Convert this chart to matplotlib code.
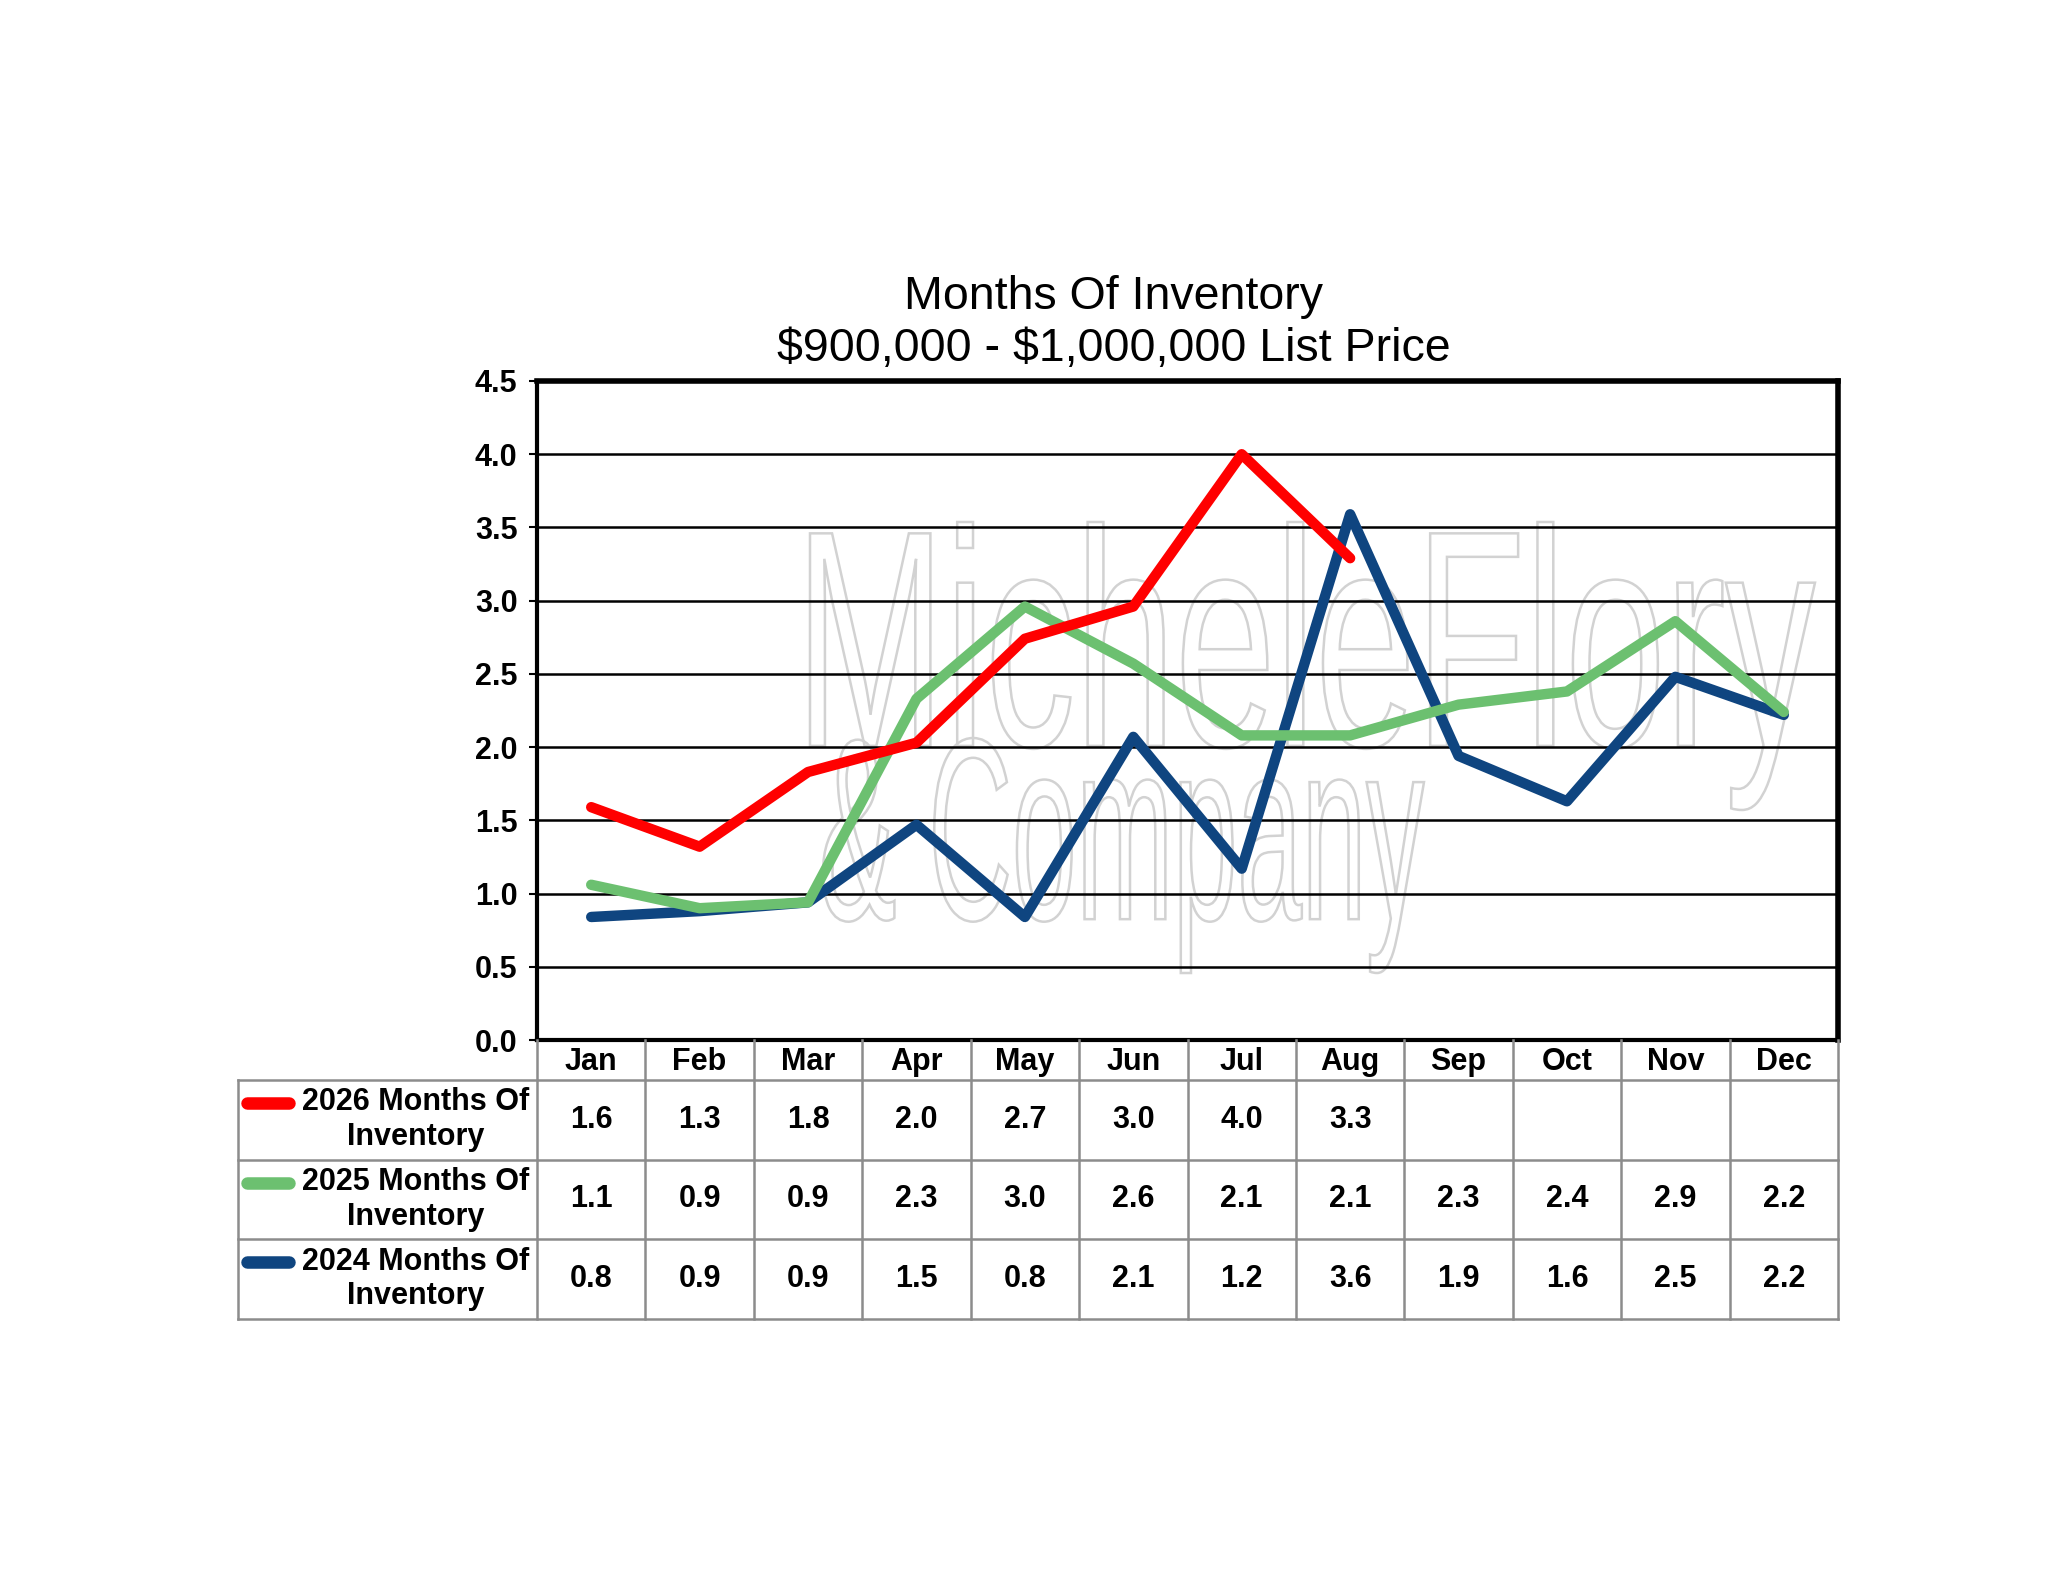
import matplotlib
matplotlib.use('Agg')
import matplotlib.pyplot as plt
from matplotlib.textpath import TextPath
from matplotlib.font_manager import FontProperties
from matplotlib.patches import PathPatch
from matplotlib.transforms import Affine2D, IdentityTransform
import numpy as np

plt.rcParams['font.family'] = ['Liberation Sans', 'DejaVu Sans']

months = ['Jan', 'Feb', 'Mar', 'Apr', 'May', 'Jun', 'Jul', 'Aug', 'Sep', 'Oct', 'Nov', 'Dec']
inv2026 = [1.59, 1.32, 1.83, 2.03, 2.74, 2.96, 4.00, 3.29]
inv2025 = [1.06, 0.90, 0.94, 2.33, 2.96, 2.57, 2.08, 2.08, 2.29, 2.38, 2.86, 2.24]
inv2024 = [0.84, 0.88, 0.94, 1.47, 0.84, 2.07, 1.17, 3.59, 1.94, 1.63, 2.48, 2.22]
seriesNames = ['2026 Months Of\nInventory', '2025 Months Of\nInventory', '2024 Months Of\nInventory']
seriesColors = ['#ff0000', '#6cc070', '#0f4580']

W, H = 2048, 1583
fig = plt.figure(figsize=(W / 100, H / 100), dpi=100)

# pixel layout
axL, axR, axT, axB = 537, 1838, 381, 1040
tabL, tabB = 238, 1319
fs = 22

ax = fig.add_axes([axL / W, 1 - axB / H, (axR - axL) / W, (axB - axT) / H])
x = np.arange(len(months))

ax.set_xlim(-0.5, 11.5)
ax.set_ylim(0, 4.5)
yt = np.arange(0, 4.51, 0.5)
ax.set_yticks(yt)
ax.set_yticklabels([f'{v:.1f}' for v in yt], fontsize=fs, fontweight='bold')
ax.set_xticks([])
for y in yt[1:-1]:
    ax.axhline(y, color='black', lw=1.8, zorder=1)
ax.tick_params(axis='y', direction='out', length=6, width=1.5, pad=8)
for side in ['left', 'bottom']:
    ax.spines[side].set_linewidth(3)
for side in ['top', 'right']:
    ax.spines[side].set_linewidth(4)


def watermark(text, x0, y0, x1, y1):
    # outline text stretched into a pixel box (origin bottom-left)
    tp = TextPath((0, 0), text, size=100, prop=FontProperties(family='Liberation Sans'))
    ext = tp.get_extents()
    tr = Affine2D().translate(-ext.x0, -ext.y0).scale((x1 - x0) / ext.width, (y1 - y0) / ext.height)
    tr = tr.translate(x0, H - y1)
    patch = PathPatch(tr.transform_path(tp), facecolor='none', edgecolor='#d2d2d2', lw=1.8,
                      transform=IdentityTransform(), zorder=0.5)
    ax.add_artist(patch)


watermark('MicheleFlory', 810, 522, 1815, 810)
watermark('& Company', 823, 738, 1424, 973)

allSeries = [inv2026, inv2025, inv2024]
for vals, col in zip(allSeries[::-1], seriesColors[::-1]):
    ax.plot(x[:len(vals)], vals, color=col, lw=7.5, solid_joinstyle='round',
            solid_capstyle='round', zorder=3)

fig.text(1114 / W, 1 - 297 / H, 'Months Of Inventory', fontsize=33.5, ha='center', va='center')
fig.text(1114 / W, 1 - 349 / H, r'\$900,000 - \$1,000,000 List Price', fontsize=33.5,
         ha='center', va='center')

# data table below the axes
colW = (axR - axL) / 12
leftUnits = (axL - tabL) / colW
tab = fig.add_axes([tabL / W, 1 - tabB / H, (axR - tabL) / W, (tabB - axB) / H])
tab.set_xlim(-0.5 - leftUnits, 11.5)
tab.set_ylim(0, 3.5)
tab.axis('off')
gridCol = '#8c8c8c'
lx = -0.5 - leftUnits
for i in range(13):
    tab.plot([i - 0.5, i - 0.5], [0, 3.5], color=gridCol, lw=1.8, clip_on=False)
tab.plot([lx, lx], [0, 3.0], color=gridCol, lw=1.8, clip_on=False)
for yy in [0, 1, 2, 3]:
    tab.plot([lx, 11.5], [yy, yy], color=gridCol, lw=1.8, clip_on=False)

for i, m in enumerate(months):
    tab.text(i, 3.22, m, ha='center', va='center', fontsize=fs, fontweight='bold')

for r, (vals, name, col) in enumerate(zip(allSeries, seriesNames, seriesColors)):
    yc = 2.5 - r
    tab.plot([lx + 0.08, lx + 0.47], [yc + 0.21, yc + 0.21], color=col, lw=9,
             solid_capstyle='round', clip_on=False)
    tab.text(lx + 1.64, yc, name, ha='center', va='center', fontsize=fs,
             fontweight='bold', linespacing=1.2)
    for i, v in enumerate(vals):
        tab.text(i, yc, f'{v:.1f}', ha='center', va='center', fontsize=fs, fontweight='bold')

fig.savefig('out.png', dpi=100)
